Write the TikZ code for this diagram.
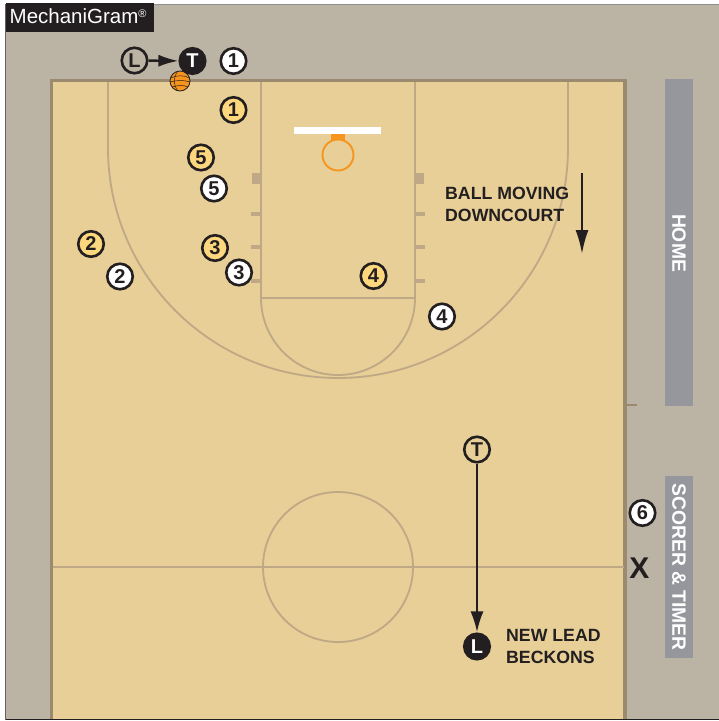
\documentclass[tikz,border=0pt]{standalone}
\usepackage{fontspec}
\setmainfont{Liberation Sans}
\usetikzlibrary{arrows.meta}

\definecolor{courtfloor}{HTML}{E7CF97}
\definecolor{apron}{HTML}{BBB3A3}
\definecolor{courtedge}{HTML}{9C8A6E}
\definecolor{courtline}{HTML}{BFA886}
\definecolor{tablebar}{HTML}{96979C}
\definecolor{teamgold}{HTML}{FDD77D}
\definecolor{rimorange}{HTML}{F7941D}
\definecolor{inkblack}{HTML}{231F20}

\tikzset{
    player/.style={circle, draw=inkblack, line width=2.6pt, minimum size=25.5pt, inner sep=0pt, font=\bfseries\fontsize{20}{20}\selectfont, text=inkblack},
    white player/.style={player, fill=white},
    gold player/.style={player, fill=teamgold},
    official/.style={player, fill=none},
    black official/.style={player, fill=inkblack, text=white},
    note/.style={font=\bfseries\fontsize{17.7}{22}\selectfont, text=inkblack, align=left},
    bar label/.style={font=\bfseries\fontsize{19.3}{19.3}\selectfont, text=white, rotate=-90},
}

\begin{document}
\begin{tikzpicture}[x=1pt, y=-1pt, >=Latex]
    \useasboundingbox (0,0) rectangle (719,721);
    \fill[apron] (5.5,4) rectangle (719,719);
    \draw[inkblack, line width=0.8pt] (5.5,719.5) -- (719,719.5);
    \draw[inkblack!70, line width=0.6pt] (5.5,4) -- (5.5,719.5);
    \draw[inkblack!50, line width=0.6pt] (5.5,4) -- (719,4);

    % court
    \fill[courtfloor] (52,81) rectangle (625,718.5);
    \draw[courtedge, line width=3.2pt] (51.5,718.5) -- (51.5,80.5) -- (625,80.5) -- (625,718.5);
    \draw[courtedge, line width=1.2pt] (625,405) -- (637,405);

    % floor lines
    \begin{scope}[courtline, line width=1.8pt]
        \draw (108,82) -- (108,148) arc[start angle=180, end angle=0, radius=230] -- (568,82);
        \draw (261,82) -- (261,298) -- (415,298) -- (415,82);
        \draw (261,298) arc[start angle=180, end angle=0, radius=77];
        \draw (338,567) circle[radius=75];
        \draw (53,567) -- (623.5,567);
    \end{scope}
    \fill[courtline] (252,173) rectangle (261,184);
    \fill[courtline] (415,173) rectangle (424,184);
    \foreach \hashy in {214,247,281} {
        \fill[courtline] (251,\hashy-2) rectangle (261,\hashy+2);
        \fill[courtline] (415,\hashy-2) rectangle (425,\hashy+2);
    }

    % basket
    \fill[white] (294,127) rectangle (381,133.5);
    \fill[rimorange] (331,133.5) rectangle (345,140);
    \draw[rimorange, line width=1.9pt] (338,155) circle[radius=15.5];

    % table bars
    \fill[tablebar] (665,79) rectangle (693,406);
    \fill[tablebar] (665,476) rectangle (693,658);
    \node[bar label] (home) at (679,243) {HOME};
    \node[bar label] (scorer) at (679,567) {SCORER \& TIMER};

    % logo
    \fill[inkblack] (5.5,3) rectangle (154,32);
    \node[text=white, anchor=west, inner sep=0pt, font=\fontsize{20.5}{20.5}\selectfont] (logo) at (9.5,16.5) {MechaniGram\raisebox{6pt}{\fontsize{11}{11}\selectfont®}};

    % ball
    \begin{scope}[shift={(180,81)}]
        \fill[rimorange] (0,0) circle[radius=10];
        \draw[inkblack, line width=0.8pt] (0,0) circle[radius=10];
        \draw[inkblack, line width=0.5pt] (-9.5,-3) .. controls (-3,-6) and (4,-6) .. (9.5,-3);
        \draw[inkblack, line width=0.5pt] (-10,1) .. controls (-3,-1) and (4,-1) .. (10,1);
        \draw[inkblack, line width=0.5pt] (-8,6) .. controls (-2,4) and (4,4) .. (8,6);
        \draw[inkblack, line width=0.5pt] (-2,-10) .. controls (-7,-4) and (-7,4) .. (-2,10);
    \end{scope}

    % officials
    \node[official] (lead) at (134.5,60.5) {L};
    \node[black official] (trail) at (192.5,61) {T};
    \node[official] (newtrail) at (477,449.5) {T};
    \node[black official] (newlead) at (477,646.5) {L};
    \draw[inkblack, line width=2.4pt, -{Latex[length=20pt, width=12pt]}] (lead) -- (trail);
    \draw[inkblack, line width=2.4pt, -{Latex[length=21pt, width=13pt]}] (newtrail) -- (newlead);

    % white team
    \node[white player] (w1) at (233.5,61) {1};
    \node[white player] (w2) at (120,276.5) {2};
    \node[white player] (w3) at (239,272.5) {3};
    \node[white player] (w4) at (442,316.5) {4};
    \node[white player] (w5) at (214,188.5) {5};
    \node[white player] (w6) at (642.5,513) {6};

    % gold team
    \node[gold player] (g1) at (233.5,110) {1};
    \node[gold player] (g2) at (91,244) {2};
    \node[gold player] (g3) at (215,248) {3};
    \node[gold player] (g4) at (373.5,276) {4};
    \node[gold player] (g5) at (201,157.5) {5};

    % notes
    \node[note, anchor=north west, inner sep=0pt] (moving) at (445,186.5) {BALL MOVING\\DOWNCOURT};
    \coordinate (downstart) at (582,173);
    \coordinate (downend) at (582,254);
    \draw[inkblack, line width=2.4pt, -{Latex[length=24pt, width=13pt]}] (downstart) -- (downend);
    \node[note, anchor=north west, inner sep=0pt] (beckons) at (506,629.5) {NEW LEAD\\BECKONS};
    \node[font=\bfseries\fontsize{30}{30}\selectfont, text=inkblack, inner sep=0pt] (xmark) at (639.5,568) {X};
\end{tikzpicture}
\end{document}
